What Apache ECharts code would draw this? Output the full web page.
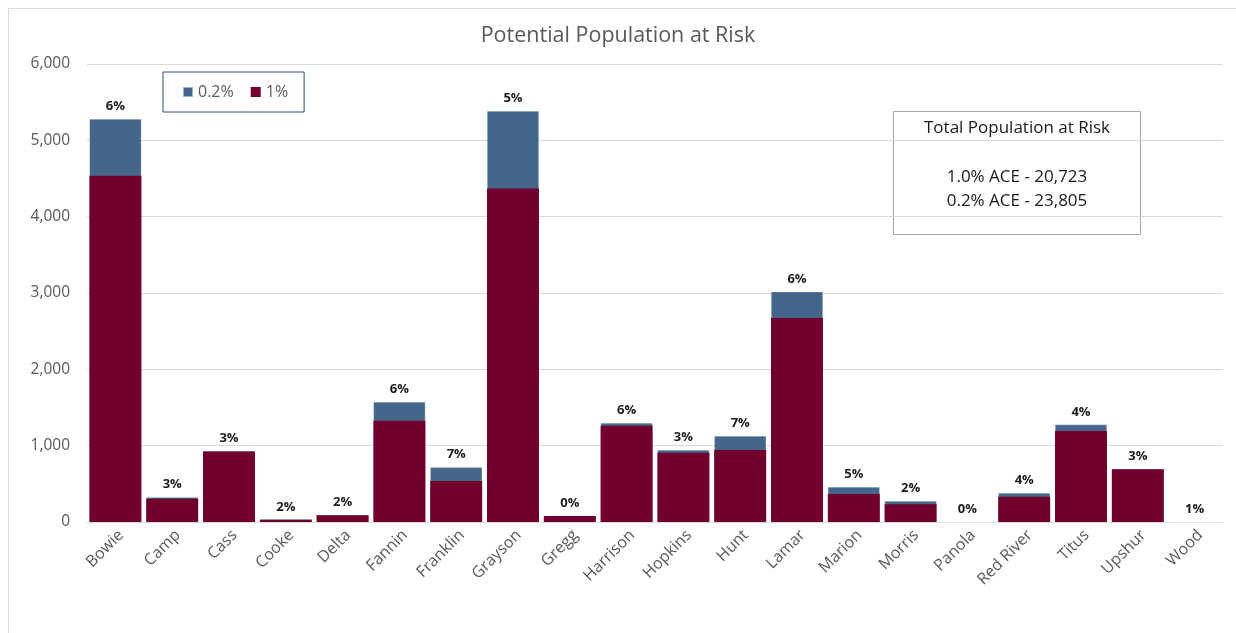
<!DOCTYPE html>
<html>
<head>
<meta charset="utf-8">
<script src="https://cdn.jsdelivr.net/npm/echarts@6/dist/echarts.min.js"></script>
<style>
  html, body { margin: 0; padding: 0; background: #fff; }
  #chart { width: 1236px; height: 633px; }
</style>
</head>
<body>
<div id="chart"></div>
<script>
// Counties and population at risk per flood event
const counties = ['Bowie', 'Camp', 'Cass', 'Cooke', 'Delta', 'Fannin', 'Franklin', 'Grayson', 'Gregg', 'Harrison',
  'Hopkins', 'Hunt', 'Lamar', 'Marion', 'Morris', 'Panola', 'Red River', 'Titus', 'Upshur', 'Wood'];
// 0.2% annual chance event (total population at risk)
const pop02 = [5278, 324, 930, 35, 92, 1573, 717, 5383, 83, 1297, 944, 1127, 3018, 459, 275, 0, 380, 1276, 695, 0];
// 1% annual chance event
const pop1 = [4535, 306, 925, 30, 90, 1328, 537, 4368, 80, 1262, 908, 944, 2674, 367, 232, 0, 332, 1193, 690, 0];
// Share of county population at risk
const pctLabels = ['6%', '3%', '3%', '2%', '2%', '6%', '7%', '5%', '0%', '6%', '3%', '7%', '6%', '5%', '2%', '0%', '4%', '4%', '3%', '1%'];
const yTicks = [0, 1000, 2000, 3000, 4000, 5000, 6000];
const totalTitle = 'Total Population at Risk';
const totalLines = ['1.0% ACE - 20,723', '0.2% ACE - 23,805'];

const FONT = 'Open Sans';
const BLUE = '#44668B';
const MAROON = '#72002D';

const chart = echarts.init(document.getElementById('chart'));
chart.setOption({
  animation: false,
  backgroundColor: '#fff',
  textStyle: { fontFamily: FONT },
  title: {
    text: 'Potential Population at Risk',
    left: 'center',
    top: 20,
    textStyle: { fontFamily: FONT, fontSize: 21.5, fontWeight: 'normal', color: '#595959' }
  },
  legend: {
    left: 163,
    top: 72,
    width: 140,
    padding: [12, 16, 12, 19],
    borderColor: '#2F4A70',
    borderWidth: 1,
    itemWidth: 10,
    itemHeight: 10,
    itemGap: 17,
    icon: 'rect',
    data: ['0.2%', '1%'],
    textStyle: { fontFamily: FONT, fontSize: 16, color: '#595959' }
  },
  grid: { left: 87, right: 13, top: 64, bottom: 111, containLabel: false },
  xAxis: {
    type: 'category',
    data: counties,
    axisTick: { show: false },
    axisLine: { lineStyle: { color: '#D9D9D9' } },
    axisLabel: {
      rotate: 45,
      interval: 0,
      margin: 5,
      verticalAlign: 'top',
      fontFamily: FONT,
      fontSize: 16,
      color: '#595959'
    }
  },
  yAxis: {
    type: 'value',
    min: yTicks[0],
    max: yTicks[yTicks.length - 1],
    interval: 1000,
    axisLine: { show: false },
    axisTick: { show: false },
    splitLine: { lineStyle: { color: '#D9D9D9' } },
    axisLabel: {
      margin: 17,
      fontFamily: FONT,
      fontSize: 15.5,
      color: '#595959',
      formatter: v => v.toLocaleString('en-US')
    }
  },
  series: [
    {
      name: '0.2%',
      type: 'bar',
      data: pop02,
      barCategoryGap: '8.5%',
      barGap: '-100%',
      z: 2,
      itemStyle: { color: BLUE, borderColor: 'rgba(255,255,255,0.5)', borderWidth: 0.5 },
      label: {
        show: true,
        position: 'top',
        distance: 6,
        formatter: p => pctLabels[p.dataIndex],
        fontFamily: FONT,
        fontSize: 13,
        fontWeight: 'bold',
        color: '#1a1a1a'
      }
    },
    {
      name: '1%',
      type: 'bar',
      data: pop1,
      barCategoryGap: '8.5%',
      barGap: '-100%',
      z: 3,
      itemStyle: { color: MAROON }
    }
  ],
  graphic: [
    {
      type: 'rect',
      shape: { x: 8.5, y: 8.5, width: 1240, height: 640 },
      style: { fill: 'none', stroke: '#D9D9D9', lineWidth: 1 },
      silent: true,
      z: -10
    },
    {
      type: 'group',
      left: 893,
      top: 111,
      children: [
        {
          type: 'rect',
          shape: { x: 0.5, y: 0.5, width: 247, height: 123 },
          style: { fill: '#fff', stroke: '#A6A6A6', lineWidth: 1 }
        },
        {
          type: 'text',
          style: {
            x: 124, y: 17,
            text: totalTitle,
            textAlign: 'center', textVerticalAlign: 'middle',
            fontFamily: FONT, fontSize: 17, fill: '#1a1a1a'
          }
        },
        {
          type: 'text',
          style: {
            x: 124, y: 66,
            text: totalLines[0],
            textAlign: 'center', textVerticalAlign: 'middle',
            fontFamily: FONT, fontSize: 17, fill: '#1a1a1a'
          }
        },
        {
          type: 'text',
          style: {
            x: 124, y: 90,
            text: totalLines[1],
            textAlign: 'center', textVerticalAlign: 'middle',
            fontFamily: FONT, fontSize: 17, fill: '#1a1a1a'
          }
        }
      ]
    }
  ]
});
</script>
</body>
</html>
